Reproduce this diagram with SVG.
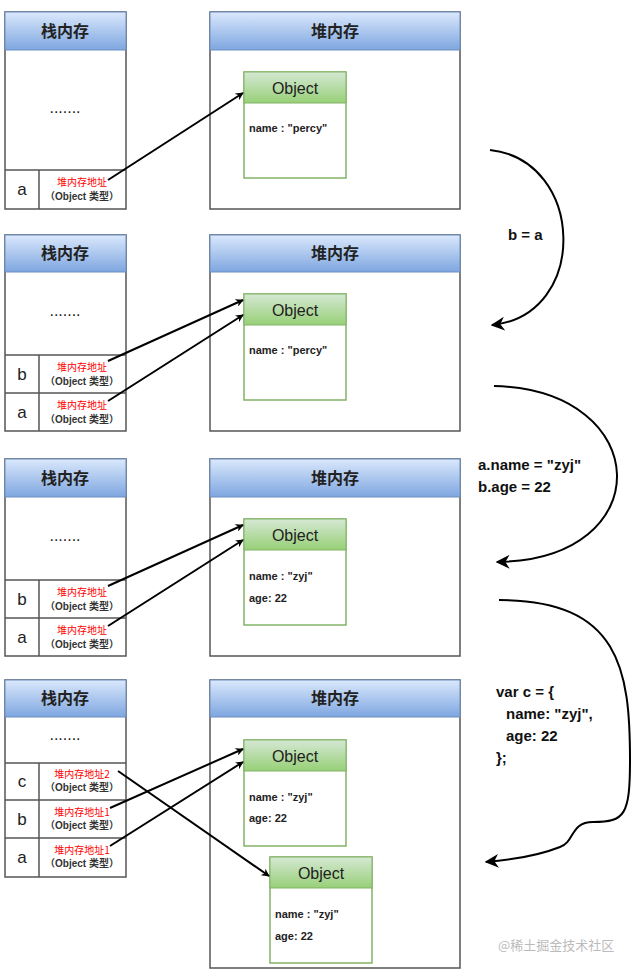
<svg xmlns="http://www.w3.org/2000/svg" width="638" height="975" viewBox="0 0 638 975">
<defs>
<linearGradient id="blue" x1="0" y1="0" x2="0" y2="1"><stop offset="0" stop-color="#dae8fc"/><stop offset="1" stop-color="#7ea6e0"/></linearGradient>
<linearGradient id="green" x1="0" y1="0" x2="0" y2="1"><stop offset="0" stop-color="#d5e8d4"/><stop offset="1" stop-color="#97d077"/></linearGradient>
<marker id="ah" viewBox="0 0 10 10" refX="9" refY="5" markerWidth="8" markerHeight="8" markerUnits="userSpaceOnUse" orient="auto"><path d="M0,0 L10,5 L0,10 L3,5 Z" fill="#000"/></marker>
<marker id="ah2" viewBox="0 0 10 10" refX="9" refY="5" markerWidth="14" markerHeight="14" markerUnits="userSpaceOnUse" orient="auto"><path d="M0,0 L10,5 L0,10 L3,5 Z" fill="#000"/></marker>
</defs>
<style>
.box{fill:#fff;stroke:#555;stroke-width:1.5}
.hdr{fill:url(#blue);stroke:#6c8ebf;stroke-width:1}
.ht{font-family:"Noto Sans CJK SC",serif;font-size:16px;font-weight:bold;fill:#222;text-anchor:middle}
.dots{font-family:"Liberation Sans",sans-serif;font-size:16px;fill:#222;text-anchor:middle}
.var{font-family:"Liberation Sans",sans-serif;font-size:17px;fill:#222;text-anchor:middle}
.red{font-family:"Noto Sans CJK SC",sans-serif;font-size:10px;fill:#f00;text-anchor:middle}
.typ{font-family:"Liberation Sans","Noto Sans CJK SC",sans-serif;font-size:10px;font-weight:bold;fill:#333;text-anchor:middle}
.ob{fill:#fff;stroke:#82b366;stroke-width:1.5}
.oh{fill:url(#green);stroke:#82b366;stroke-width:1}
.ot{font-family:"Liberation Sans",sans-serif;font-size:16px;fill:#222;text-anchor:middle}
.prop{font-family:"Liberation Sans",sans-serif;font-size:11px;font-weight:bold;fill:#222}
.lab{font-family:"Liberation Sans",sans-serif;font-size:15px;font-weight:bold;fill:#111}
.ln{stroke:#000;stroke-width:2;fill:none;marker-end:url(#ah)}
.cv{stroke:#000;stroke-width:2;fill:none;marker-end:url(#ah2)}
</style>
<g id="stack1"><rect class="box" x="5" y="12" width="121" height="197"/><rect class="hdr" x="5" y="12" width="121" height="38"/><text class="ht" x="65" y="37">栈内存</text><text class="dots" x="65" y="113">.......</text><line x1="5" y1="170" x2="126" y2="170" stroke="#555" stroke-width="1.5"/><line x1="39" y1="170" x2="39" y2="209" stroke="#555" stroke-width="1.5"/><text class="var" x="22" y="195">a</text><text class="red" x="82" y="186">堆内存地址</text><text class="typ" x="82" y="200">（Object 类型）</text></g>
<g id="heap1"><rect class="box" x="210" y="12" width="250" height="197"/><rect class="hdr" x="210" y="12" width="250" height="38"/><text class="ht" x="335" y="37">堆内存</text></g>
<g id="obj1"><rect class="ob" x="244" y="72" width="102" height="106"/><rect class="oh" x="244" y="72" width="102" height="31"/><text class="ot" x="295" y="94">Object</text><text class="prop" x="249" y="132">name : "percy"</text></g>

<g id="stack2"><rect class="box" x="5" y="235" width="121" height="196"/><rect class="hdr" x="5" y="235" width="121" height="37"/><text class="ht" x="65" y="259">栈内存</text><text class="dots" x="65" y="316">.......</text><line x1="5" y1="355" x2="126" y2="355" stroke="#555" stroke-width="1.5"/><line x1="5" y1="393" x2="126" y2="393" stroke="#555" stroke-width="1.5"/><line x1="39" y1="355" x2="39" y2="431" stroke="#555" stroke-width="1.5"/><text class="var" x="22" y="380">b</text><text class="red" x="82" y="371">堆内存地址</text><text class="typ" x="82" y="385">（Object 类型）</text><text class="var" x="22" y="418">a</text><text class="red" x="82" y="409">堆内存地址</text><text class="typ" x="82" y="423">（Object 类型）</text></g>
<g id="heap2"><rect class="box" x="210" y="235" width="250" height="196"/><rect class="hdr" x="210" y="235" width="250" height="37"/><text class="ht" x="335" y="259">堆内存</text></g>
<g id="obj2"><rect class="ob" x="244" y="294" width="102" height="106"/><rect class="oh" x="244" y="294" width="102" height="31"/><text class="ot" x="295" y="316">Object</text><text class="prop" x="249" y="354">name : "percy"</text></g>

<g id="stack3"><rect class="box" x="5" y="459" width="121" height="197"/><rect class="hdr" x="5" y="459" width="121" height="38"/><text class="ht" x="65" y="484">栈内存</text><text class="dots" x="65" y="541">.......</text><line x1="5" y1="580" x2="126" y2="580" stroke="#555" stroke-width="1.5"/><line x1="5" y1="618" x2="126" y2="618" stroke="#555" stroke-width="1.5"/><line x1="39" y1="580" x2="39" y2="656" stroke="#555" stroke-width="1.5"/><text class="var" x="22" y="605">b</text><text class="red" x="82" y="596">堆内存地址</text><text class="typ" x="82" y="610">（Object 类型）</text><text class="var" x="22" y="643">a</text><text class="red" x="82" y="634">堆内存地址</text><text class="typ" x="82" y="648">（Object 类型）</text></g>
<g id="heap3"><rect class="box" x="210" y="459" width="250" height="197"/><rect class="hdr" x="210" y="459" width="250" height="38"/><text class="ht" x="335" y="484">堆内存</text></g>
<g id="obj3"><rect class="ob" x="244" y="519" width="102" height="106"/><rect class="oh" x="244" y="519" width="102" height="31"/><text class="ot" x="295" y="541">Object</text><text class="prop" x="249" y="580">name : "zyj"</text><text class="prop" x="249" y="602">age: 22</text></g>

<g id="stack4"><rect class="box" x="5" y="680" width="121" height="197"/><rect class="hdr" x="5" y="680" width="121" height="37"/><text class="ht" x="65" y="704">栈内存</text><text class="dots" x="65" y="740">.......</text><line x1="5" y1="763" x2="126" y2="763" stroke="#555" stroke-width="1.5"/><line x1="5" y1="800" x2="126" y2="800" stroke="#555" stroke-width="1.5"/><line x1="5" y1="838" x2="126" y2="838" stroke="#555" stroke-width="1.5"/><line x1="39" y1="763" x2="39" y2="877" stroke="#555" stroke-width="1.5"/><text class="var" x="22" y="787">c</text><text class="red" x="82" y="778">堆内存地址2</text><text class="typ" x="82" y="791">（Object 类型）</text><text class="var" x="22" y="825">b</text><text class="red" x="82" y="816">堆内存地址1</text><text class="typ" x="82" y="829">（Object 类型）</text><text class="var" x="22" y="863">a</text><text class="red" x="82" y="854">堆内存地址1</text><text class="typ" x="82" y="867">（Object 类型）</text></g>
<g id="heap4"><rect class="box" x="210" y="680" width="250" height="288"/><rect class="hdr" x="210" y="680" width="250" height="37"/><text class="ht" x="335" y="704">堆内存</text></g>
<g id="obj4a"><rect class="ob" x="244" y="740" width="102" height="106"/><rect class="oh" x="244" y="740" width="102" height="31"/><text class="ot" x="295" y="762">Object</text><text class="prop" x="249" y="801">name : "zyj"</text><text class="prop" x="249" y="822">age: 22</text></g>
<g id="obj4b"><rect class="ob" x="270" y="857" width="102" height="106"/><rect class="oh" x="270" y="857" width="102" height="31"/><text class="ot" x="321" y="879">Object</text><text class="prop" x="275" y="918">name : "zyj"</text><text class="prop" x="275" y="940">age: 22</text></g>

<g id="labels"><text class="lab" x="508" y="240">b = a</text><text class="lab" x="478" y="470">a.name = "zyj"</text><text class="lab" x="478" y="492">b.age = 22</text><text class="lab" x="496" y="697">var c = {</text><text class="lab" x="506" y="719">name: "zyj",</text><text class="lab" x="506" y="741">age: 22</text><text class="lab" x="496" y="763">};</text>
<text x="498" y="950" font-family="Noto Sans CJK SC,sans-serif" font-size="13" fill="#bbb">@稀土掘金技术社区</text></g>

<g id="connectors">
<line class="ln" x1="108" y1="180" x2="243" y2="93"/>
<line class="ln" x1="108" y1="361" x2="243" y2="300"/>
<line class="ln" x1="108" y1="401" x2="243" y2="315"/>
<line class="ln" x1="108" y1="586" x2="243" y2="525"/>
<line class="ln" x1="108" y1="626" x2="243" y2="540"/>
<line class="ln" x1="110" y1="808" x2="243" y2="749"/>
<line class="ln" x1="110" y1="846" x2="243" y2="762"/>
<line class="ln" x1="118" y1="771" x2="269" y2="876"/>
<path class="cv" d="M490,150 C585,160 590,315 492,325"/>
<path class="cv" d="M494,386 C655,390 660,560 497,562"/>
<path class="cv" d="M499,600 C620,600 630,670 630,760 C630,815 625,822 593,822 C570,822 575,842 560,847 C540,855 510,860 486,862"/>
</g>
</svg>
